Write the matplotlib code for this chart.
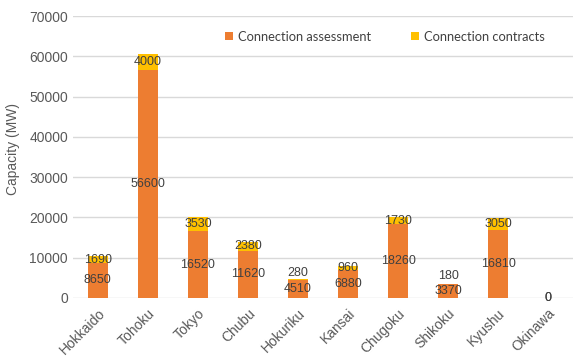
import numpy as np
import matplotlib
matplotlib.use("Agg")
import matplotlib.pyplot as plt

# Data
regions = ['Hokkaido', 'Tohoku', 'Tokyo', 'Chubu', 'Hokuriku',
           'Kansai', 'Chugoku', 'Shikoku', 'Kyushu', 'Okinawa']
assessment = [8650, 56600, 16520, 11620, 4510, 6880, 18260, 3370, 16810, 0]
contracts = [1690, 4000, 3530, 2380, 280, 960, 1730, 180, 3050, 0]

orange = '#ED7D31'
yellow = '#FFC000'
text_col = '#404040'

plt.rcParams['font.family'] = ['Liberation Sans', 'DejaVu Sans']

fig = plt.figure(figsize=(5.82, 3.58), dpi=100)
ax = fig.add_axes([0.125, 0.168, 0.86, 0.787])

x = np.arange(len(regions))
a = np.array(assessment)
c = np.array(contracts)
ax.bar(x, a, width=0.4, color=orange, label='Connection assessment', zorder=3)
ax.bar(x, c, width=0.4, bottom=a, color=yellow, label='Connection contracts', zorder=3)

# data labels in the middle of each segment, nudged apart when too close
for i in range(len(regions)):
    ya = a[i] / 2
    yc = a[i] + c[i] / 2
    if a[i] > 0:
        yc = max(yc, ya + 3800)
    ax.text(x[i], ya, str(a[i]), ha='center', va='center', fontsize=9, color=text_col, zorder=4)
    ax.text(x[i], yc, str(c[i]), ha='center', va='center', fontsize=9, color=text_col, zorder=4)

ax.set_xlim(-0.5, len(regions) - 0.5)
ax.set_ylim(0, 70000)
ax.set_yticks(np.arange(0, 70001, 10000))
ax.yaxis.grid(True, color='#D9D9D9', linewidth=1, zorder=0)
for s in ax.spines.values():
    s.set_visible(False)
ax.tick_params(axis='both', length=0, labelsize=10, labelcolor='#595959')
ax.tick_params(axis='x', pad=6)
ax.set_xticks(x)
ax.set_xticklabels(regions, rotation=45, ha='right', rotation_mode='anchor')
ax.set_ylabel('Capacity (MW)', fontsize=10, color='#595959')
ax.yaxis.set_label_coords(-0.105, 0.53)

leg = ax.legend(loc='upper center', bbox_to_anchor=(0.624, 0.99), ncol=2, frameon=False,
                prop={'family': 'Lato', 'size': 9.3}, handlelength=0.6, handleheight=0.6,
                columnspacing=3.05, handletextpad=0.4)
for t in leg.get_texts():
    t.set_color(text_col)

fig.savefig('out.png', dpi=100)
